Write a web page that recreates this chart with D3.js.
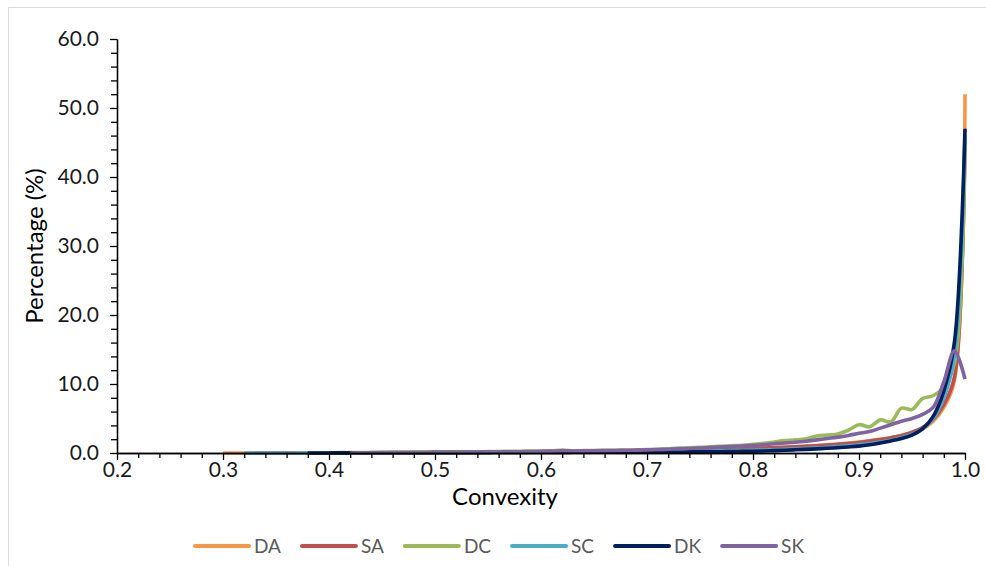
<!DOCTYPE html>
<html><head><meta charset="utf-8">
<script src="https://cdn.jsdelivr.net/npm/d3@7"></script>
<style>body{margin:0;background:#fff;} text{font-family:Lato,"Open Sans",sans-serif;}</style>
</head><body><svg id="c" width="986" height="566"></svg>
<script>
const convexity=[0.30,0.31,0.32,0.33,0.34,0.35,0.36,0.37,0.38,0.39,
0.40,0.41,0.42,0.43,0.44,0.45,0.46,0.47,0.48,0.49,
0.50,0.51,0.52,0.53,0.54,0.55,0.56,0.57,0.58,0.59,
0.60,0.61,0.62,0.63,0.64,0.65,0.66,0.67,0.68,0.69,
0.70,0.71,0.72,0.73,0.74,0.75,0.76,0.77,0.78,0.79,
0.80,0.81,0.82,0.83,0.84,0.85,0.86,0.87,0.88,0.89,
0.90,0.91,0.92,0.93,0.94,0.95,0.96,0.97,0.98,0.99,1.00];
const DA=[0.0,0.0,0.0,0.01,0.01,0.01,0.02,0.02,0.02,0.03,
0.03,0.03,0.04,0.04,0.05,0.05,0.06,0.06,0.07,0.07,
0.08,0.08,0.09,0.1,0.1,0.11,0.12,0.13,0.14,0.15,
0.16,0.17,0.18,0.19,0.2,0.22,0.23,0.25,0.27,0.29,
0.31,0.33,0.36,0.38,0.41,0.44,0.48,0.52,0.56,0.61,
0.66,0.71,0.77,0.84,0.91,0.99,1.08,1.18,1.3,1.44,
1.6,1.78,1.98,2.22,2.5,2.9,3.5,4.6,6.6,10.5,52.0];
const SA=[null,null,null,0.0,0.0,0.01,0.01,0.01,0.02,0.02,
0.02,0.03,0.03,0.04,0.04,0.05,0.05,0.06,0.06,0.07,
0.07,0.08,0.09,0.09,0.1,0.11,0.12,0.13,0.14,0.15,
0.16,0.17,0.18,0.19,0.21,0.22,0.24,0.26,0.28,0.3,
0.32,0.34,0.37,0.4,0.43,0.46,0.5,0.54,0.58,0.63,
0.68,0.73,0.78,0.84,0.9,0.97,1.05,1.14,1.25,1.38,
1.53,1.72,1.95,2.22,2.55,3.0,3.7,4.9,7.0,11.0,45.0];
const DC=[null,null,null,null,null,null,null,0.0,0.02,0.03,
0.04,0.05,0.06,0.07,0.08,0.09,0.1,0.11,0.12,0.13,
0.14,0.15,0.16,0.17,0.18,0.2,0.22,0.24,0.26,0.28,
0.3,0.32,0.42,0.33,0.34,0.36,0.38,0.4,0.42,0.45,
0.5,0.55,0.62,0.7,0.75,0.82,0.9,0.98,1.05,1.12,
1.25,1.4,1.6,1.8,1.9,2.05,2.45,2.6,2.75,3.3,
4.1,3.8,4.8,4.5,6.5,6.3,7.9,8.3,9.6,13.0,46.0];
const SC=[null,null,0.0,0.0,0.0,0.01,0.01,0.01,0.01,0.02,
0.02,0.02,0.03,0.03,0.03,0.04,0.04,0.04,0.05,0.05,
0.05,0.06,0.06,0.07,0.07,0.08,0.08,0.09,0.09,0.1,
0.1,0.11,0.12,0.12,0.13,0.14,0.15,0.16,0.17,0.18,
0.19,0.2,0.22,0.23,0.25,0.27,0.29,0.31,0.34,0.37,
0.4,0.44,0.48,0.53,0.59,0.66,0.74,0.83,0.93,1.05,
1.19,1.36,1.58,1.86,2.2,2.7,3.5,5.0,8.0,14.0,46.0];
const DK=[null,null,null,null,null,null,null,null,0.0,0.01,
0.01,0.02,0.02,0.02,0.03,0.03,0.03,0.04,0.04,0.04,
0.05,0.05,0.05,0.06,0.06,0.06,0.07,0.07,0.08,0.08,
0.08,0.09,0.09,0.1,0.1,0.1,0.11,0.11,0.12,0.12,
0.13,0.13,0.14,0.15,0.16,0.17,0.18,0.19,0.21,0.23,
0.25,0.29,0.34,0.4,0.46,0.53,0.6,0.68,0.78,0.88,
1.0,1.2,1.45,1.75,2.1,2.6,3.5,5.3,9.0,16.0,47.0];
const SK=[null,null,null,null,null,null,null,null,null,null,
null,null,0.0,0.02,0.03,0.04,0.05,0.06,0.07,0.08,
0.09,0.1,0.11,0.12,0.13,0.14,0.15,0.17,0.19,0.21,
0.24,0.27,0.33,0.3,0.31,0.33,0.36,0.37,0.39,0.42,
0.45,0.5,0.55,0.6,0.65,0.72,0.8,0.88,0.95,1.02,
1.1,1.2,1.35,1.45,1.55,1.7,1.9,2.1,2.3,2.55,
2.85,3.1,3.6,4.1,4.6,5.0,5.6,6.6,10.3,14.8,10.7];
const seriesNames=["DA","SA","DC","SC","DK","SK"];
const seriesColors=["#F79646","#C0504D","#9BBB59","#4BACC6","#002060","#8064A2"];
const xTicks=[0.2,0.3,0.4,0.5,0.6,0.7,0.8,0.9,1.0];
const xMinorTicks=[0.22,0.24,0.26,0.28,0.32,0.34,0.36,0.38,0.42,0.44,0.46,0.48,0.52,0.54,0.56,0.58,0.62,0.64,0.66,0.68,0.72,0.74,0.76,0.78,0.82,0.84,0.86,0.88,0.92,0.94,0.96,0.98];
const yTicks=[0,10,20,30,40,50,60];
const yMinorTicks=[2,4,6,8,12,14,16,18,22,24,26,28,32,34,36,38,42,44,46,48,52,54,56,58];

const seriesData=[DA,SA,DC,SC,DK,SK];
const svg=d3.select("#c");
svg.append("path").attr("d","M8.5,566V7.5H986").attr("fill","none").attr("stroke","#d9d9d9").attr("stroke-width",1);

const x=d3.scaleLinear().domain([0.2,1.0]).range([117,965]);
const y=d3.scaleLinear().domain([0,60]).range([453,39]);

const line=d3.line().defined(d=>d[1]!=null).x(d=>x(d[0])).y(d=>y(d[1])).curve(d3.curveCatmullRom.alpha(0.5));
seriesData.forEach((s,i)=>{
  const pts=convexity.map((c,j)=>[c,s[j]]).filter(d=>d[1]!=null);
  svg.append("path").datum(pts).attr("d",line).attr("fill","none")
    .attr("stroke",seriesColors[i]).attr("stroke-width",3.6).attr("stroke-linejoin","round");
});

function styleAxis(g){g.selectAll("path,line").attr("stroke","#000").attr("stroke-width",1.3);g.selectAll("text").attr("fill","#1a1a1a").style("font-size","21px").style("font-family","Lato");}
svg.append("g").attr("transform","translate(0,453)").call(d3.axisBottom(x).tickValues(xMinorTicks).tickSize(5).tickSizeOuter(0).tickFormat("")).call(styleAxis);
svg.append("g").attr("transform","translate(0,453)").call(d3.axisBottom(x).tickValues(xTicks).tickSize(7).tickSizeOuter(0).tickPadding(2.5).tickFormat(d3.format(".1f"))).call(styleAxis);
svg.append("g").attr("transform","translate(117,0)").call(d3.axisLeft(y).tickValues(yMinorTicks).tickSize(6).tickSizeOuter(0).tickFormat("")).call(styleAxis);
svg.append("g").attr("transform","translate(117,0)").call(d3.axisLeft(y).tickValues(yTicks).tickSize(7).tickSizeOuter(0).tickPadding(11).tickFormat(d3.format(".1f"))).call(styleAxis);

svg.append("text").attr("x",505).attr("y",505).attr("text-anchor","middle").attr("fill","#000").style("font-size","24px").text("Convexity");
svg.append("text").attr("transform","translate(43,246) rotate(-90)").attr("text-anchor","middle").attr("fill","#000").style("font-size","24px").text("Percentage (%)");

let lx=195;
seriesNames.forEach((n,i)=>{
  svg.append("line").attr("x1",lx).attr("x2",lx+54).attr("y1",546).attr("y2",546).attr("stroke",seriesColors[i]).attr("stroke-width",4).attr("stroke-linecap","round");
  const t=svg.append("text").attr("x",lx+59).attr("y",553).attr("fill","#595959").style("font-size","19px").text(n);
  lx+=59+t.node().getComputedTextLength()+21;
});
</script></body></html>
